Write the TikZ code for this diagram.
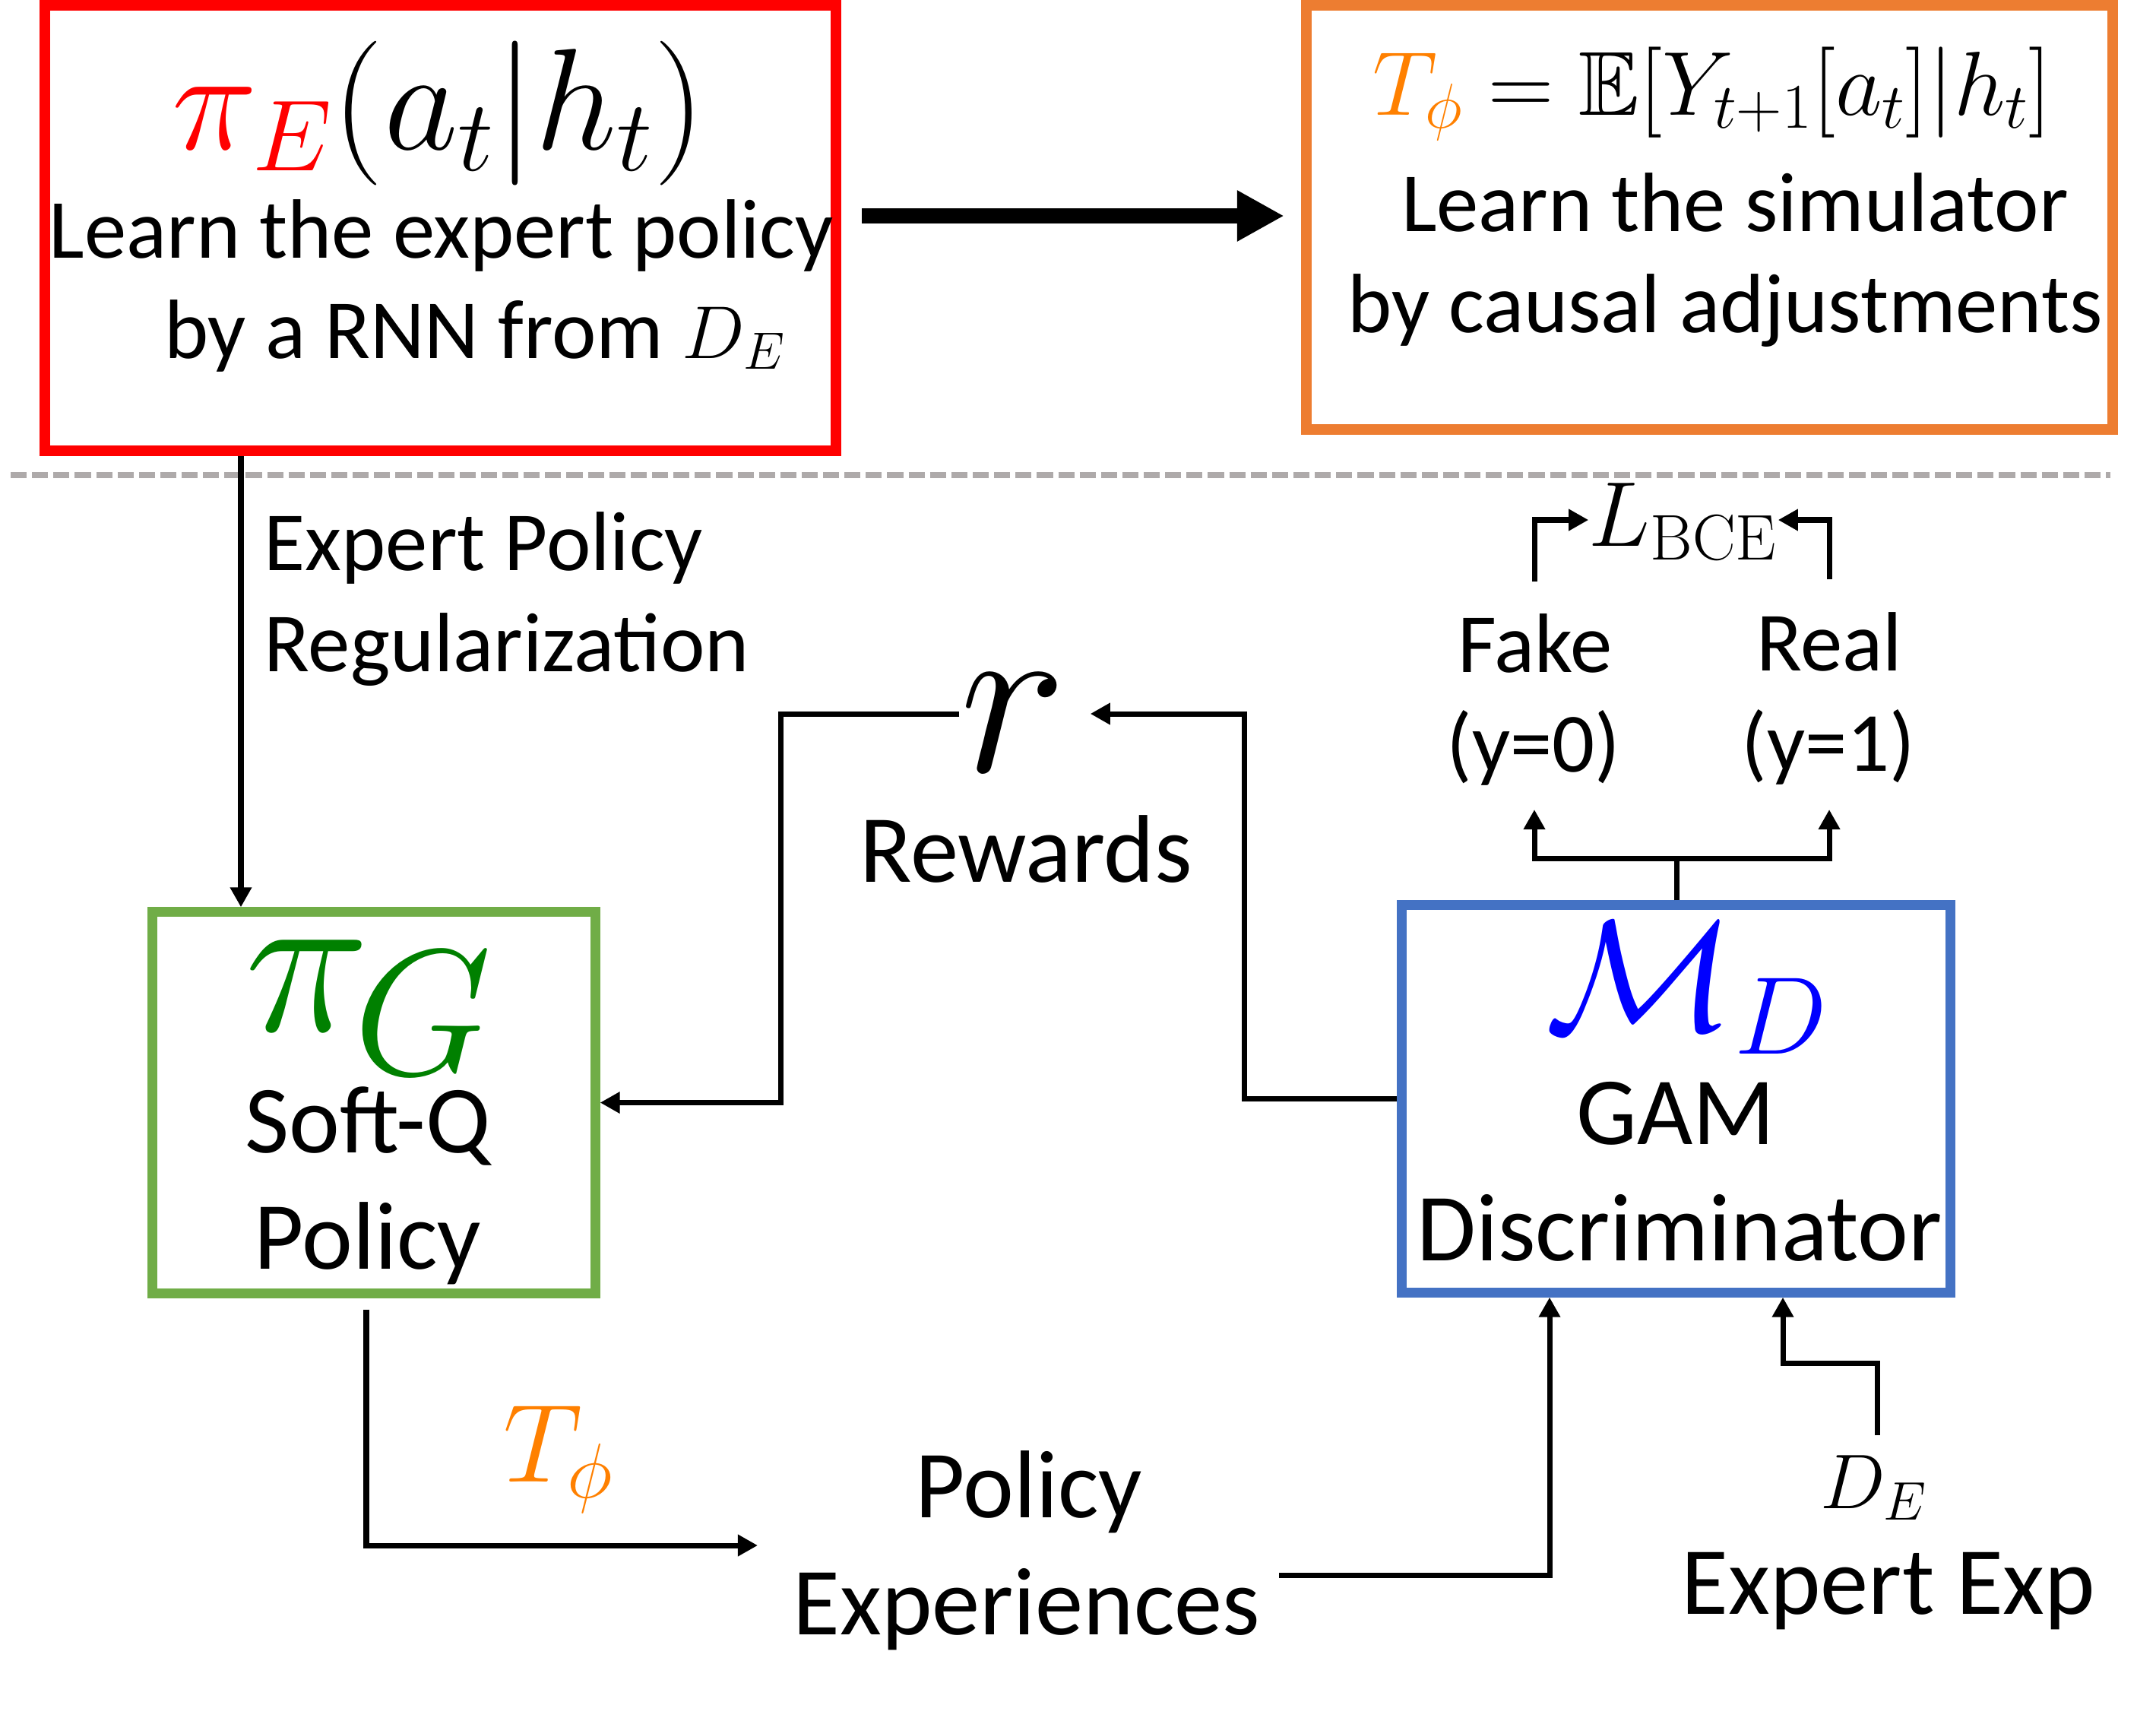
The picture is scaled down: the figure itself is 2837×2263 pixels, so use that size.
\documentclass[tikz,border=0pt]{standalone}
\usepackage{fix-cm}
\usepackage{amssymb}
\usepackage[no-math]{fontspec}
\setmainfont{Carlito}
\usetikzlibrary{arrows.meta,calc}
\definecolor{cred}{HTML}{FF0000}
\definecolor{corange}{HTML}{ED7D31}
\definecolor{cgreen}{HTML}{70AD47}
\definecolor{cblue}{HTML}{4472C4}
\definecolor{tphi}{HTML}{FF8000}
\definecolor{pig}{HTML}{008000}
\definecolor{mdblue}{HTML}{0000FF}
\definecolor{dashgray}{HTML}{AEAAAA}
\newcommand{\smalltxt}{\fontsize{31.5}{38}\selectfont}
\newcommand{\bigtxt}{\fontsize{36}{43}\selectfont}
\begin{document}
\begin{tikzpicture}[x=0.01cm,y=-0.01cm,
  box/.style={draw, line width=4pt, inner sep=0pt, fill=none},
  conn/.style={line width=2pt},
  arr/.style={conn, -{Triangle[length=7.4pt,width=7.7pt]}},
  bigarr/.style={line width=5.7pt, -{Triangle[length=17.6pt,width=17.9pt]}},
  txt/.style={inner sep=0pt, anchor=base, font=\smalltxt},
  btxt/.style={inner sep=0pt, anchor=base, font=\bigtxt}]
\useasboundingbox (0,0) rectangle (2837,2263);

% boxes
\node[box, draw=cred, minimum width=10.41cm, minimum height=5.86cm] (red) at (579.5,300) {};
\node[box, draw=corange, minimum width=10.61cm, minimum height=5.58cm] (orange) at (2249.5,286) {};
\node[box, draw=cgreen, line width=3.7pt, minimum width=5.82cm, minimum height=5.01cm] (green) at (492,1450.5) {};
\node[box, draw=cblue, line width=3.7pt, minimum width=7.21cm, minimum height=5.09cm] (blue) at (2205.5,1445.5) {};

% top texts
\node[txt, font={\fontsize{54}{54}\selectfont}] (piE) at (577,196) {${\color{cred}\pi_E}(a_t|h_t)$};
\node[txt] (l1) at (581,339) {Learn the expert policy};
\node[txt] (l2) at (625,471) {by a RNN from {\fontsize{28}{28}\selectfont$D_E$}};
\node[txt, font={\fontsize{34}{34}\selectfont}] (tf) at (2253,151) {${\color{tphi}T_\phi}=\mathbb{E}[Y_{t+1}[a_t]|h_t]$};
\node[txt] (s1) at (2283,304) {Learn the simulator};
\node[txt] (s2) at (2270,437) {by causal adjustments};

% thick arrow
\coordinate (ty) at (0,284);
\draw[bigarr, shorten <=2.7mm, shorten >=2.2mm] (red.east |- ty) -- (orange.west |- ty);

% dashed separator
\coordinate (dl) at (14,625);
\coordinate (dr) at (2777,625);
\draw[dashgray, line width=2pt, dash pattern=on 6pt off 2pt] (dl) -- (dr);

% expert policy regularization
\node[txt, anchor=base west] (ep1) at (347,750) {Expert Policy};
\node[txt, anchor=base west] (ep2) at (347,883) {Regularization};
\coordinate (ex317) at (317,0);
\draw[arr] (red.south -| ex317) -- (green.north -| ex317);

% rewards
\node[txt, font={\fontsize{85}{85}\selectfont}] (r) at (1333,1015) {$r$};
\node[btxt] (rw) at (1350,1160) {Rewards};
\coordinate (ry) at (0,939);
\draw[arr] (r.west |- ry) -- (1027,939) |- (green.east);
\draw[arr] (blue.west) -- (1637,1445.5) |- ($(r.east |- ry)+(31,0)$);

% generator
\node[inner sep=0pt, anchor=base west, font={\fontsize{79}{79}\selectfont}, text=pig] (piG) at (322,1356) {$\pi$};
\node[inner sep=0pt, anchor=base west, font={\fontsize{67}{67}\selectfont}, text=pig] (G) at (465,1413) {$G$};
\node[btxt] (sq) at (484,1516) {Soft-Q};
\node[btxt] (pol) at (484,1669) {Policy};

% discriminator
\node[txt, font={\fontsize{59}{59}\selectfont}, text=mdblue] (MD) at (2220,1355) {$\mathcal{M}_D$};
\node[btxt] (gam) at (2205,1505) {GAM};
\node[btxt] (disc) at (2210,1658) {Discriminator};

% fake / real
\node[txt] (fake) at (2020,884) {Fake};
\node[txt] (y0) at (2018,1015) {(y=0)};
\node[txt] (real) at (2407,882) {Real};
\node[txt] (y1) at (2406,1014) {(y=1)};
\node[txt, font={\fontsize{34.5}{35}\selectfont}] (lbce) at (2215,718) {$L_{\mathrm{BCE}}$};

\coordinate (split) at (2206,1129);
\coordinate (tipF) at (2019,1065);
\coordinate (tipR) at (2407,1065);
\draw[conn] (blue.north -| split) -- (split);
\draw[arr] (split) -| (tipF);
\draw[arr] (split) -| (tipR);

\coordinate (bl) at (2019,765);
\coordinate (br) at (2407,762);
\coordinate (by) at (0,684);
\draw[arr] (bl) |- (lbce.west |- by);
\draw[arr] (br) |- (lbce.east |- by);

% policy experiences
\node[txt, font={\fontsize{41.6}{42}\selectfont}] (tphil) at (735,1949) {${\color{tphi}T_\phi}$};
\node[btxt] (pe1) at (1354,1996) {Policy};
\node[btxt] (pe2) at (1351,2150) {Experiences};
\coordinate (gx) at (482,0);
\coordinate (petip) at (997,2033);
\draw[arr, shorten <=1.5mm] (green.south -| gx) |- (petip);
\coordinate (ex) at (1683,2072);
\coordinate (bx1) at (2039,0);
\draw[arr] (ex) -| (blue.south -| bx1);

% expert experiences
\node[txt, font={\fontsize{29}{29}\selectfont}] (de) at (2466,1984) {$D_E$};
\node[btxt] (ee) at (2485,2123) {Expert Exp};
\coordinate (dtop) at (2470,1888);
\coordinate (bx2) at (2346,0);
\draw[arr] (dtop) -- ++(0,-95) -| (blue.south -| bx2);
\end{tikzpicture}
\end{document}
